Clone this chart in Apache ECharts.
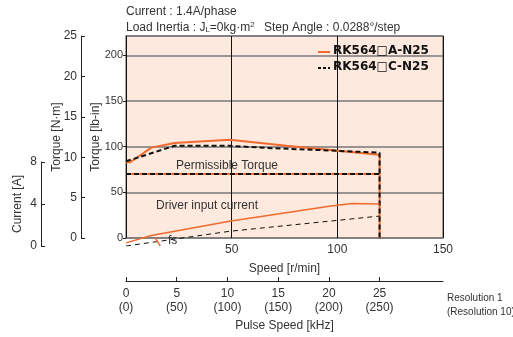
<!DOCTYPE html>
<html>
<head>
<meta charset="utf-8">
<script src="https://cdn.jsdelivr.net/npm/echarts@6/dist/echarts.min.js"></script>
<style>
html,body{margin:0;padding:0;background:#fff;}
#chart{width:513px;height:337px;}
</style>
</head>
<body>
<div id="chart"></div>
<script>
// data: speed [r/min], torque [lb-in], current [A]
var torqueA = [[0,83],[2,83],[12,99],[23,104],[49,107.5],[76,101],[118.5,91.5],[120,91],[120,0]];
var torqueC = [[0,84],[23,101],[49,101],[66,98.7],[97,95.8],[120,93.4],[120,0]];
var permissible = [[0,70],[120,70]];
var currentA = [[0,0.3],[12,1],[49,2.35],[97,3.8],[107,4.05],[120,4.0]];
var currentC = [[0,0],[49,1.4],[120,2.85]];
var fsLine = [[13.7,0.8],[16.2,0]];
var pulseTicks = [0,5,10,15,20,25];
var pulseTicks10 = ['(0)','(50)','(100)','(150)','(200)','(250)'];
var nameA = 'RK564\u25a1A-N25';
var nameC = 'RK564\u25a1C-N25';

var FONT = "'Liberation Sans',Arial,sans-serif";
var ORANGE = '#f26a2e';
var chart = echarts.init(document.getElementById('chart'));

function txt(left, top, s, size){
    return {type:'text', left:left, top:top, z:10, style:{text:s, fontSize:size||12, fontFamily:FONT, fill:'#333'}};
}

var option = {
    animation:false,
    textStyle:{fontFamily:FONT, color:'#333'},
    grid:[
        {left:126, right:70, top:36, bottom:91, show:true, backgroundColor:'#fde9de', borderColor:'#888', borderWidth:1.5},
        {left:126, right:70, top:162, bottom:91, show:false}
    ],
    xAxis:[
        {gridIndex:0, type:'value', min:0, max:150, interval:50,
         axisLine:{show:false}, axisTick:{show:false},
         axisLabel:{fontSize:12, color:'#333', margin:6, formatter:function(v){return v===0?'':v;}},
         splitLine:{show:true, lineStyle:{color:'#111', width:1}},
         name:'Speed [r/min]', nameLocation:'middle', nameGap:25, nameMoveOverlap:false,
         nameTextStyle:{fontSize:12, color:'#333'}},
        {gridIndex:0, type:'value', min:0, max:31.25, position:'bottom', offset:43,
         axisLine:{show:true, onZero:false, lineStyle:{color:'#222'}},
         axisTick:{show:true, inside:true, length:4, customValues:pulseTicks, lineStyle:{color:'#222'}},
         axisLabel:{fontSize:12, color:'#333', margin:6, lineHeight:14, customValues:pulseTicks,
            formatter:function(v){return v+'\n'+pulseTicks10[pulseTicks.indexOf(v)];}},
         splitLine:{show:false},
         name:'Pulse Speed [kHz]', nameLocation:'middle', nameGap:39, nameMoveOverlap:false,
         nameTextStyle:{fontSize:12, color:'#333'}},
        {gridIndex:1, type:'value', min:0, max:150, show:false}
    ],
    yAxis:[
        {gridIndex:0, type:'value', min:0, max:25*8.8507, interval:50,
         axisLine:{show:false}, axisTick:{show:true, length:3, lineStyle:{color:'#222'}},
         axisLabel:{fontSize:11, color:'#333', margin:3, showMaxLabel:false},
         splitLine:{show:true, lineStyle:{color:'#777', width:1.5}},
         name:'Torque [lb-in]', nameLocation:'middle', nameGap:24, nameMoveOverlap:false,
         nameTextStyle:{fontSize:12, color:'#333'}},
        {gridIndex:0, type:'value', min:0, max:25, interval:5, position:'left', offset:45,
         axisLine:{show:true, onZero:false, lineStyle:{color:'#222'}},
         axisTick:{show:true, inside:true, length:4, lineStyle:{color:'#222'}},
         axisLabel:{fontSize:12, color:'#333', margin:4},
         splitLine:{show:false},
         name:'Torque [N\u00b7m]', nameLocation:'middle', nameGap:18, nameMoveOverlap:false,
         nameTextStyle:{fontSize:12, color:'#333'}},
        {gridIndex:1, type:'value', min:0, max:8, interval:4, position:'left', offset:85,
         axisLine:{show:true, onZero:false, lineStyle:{color:'#222'}},
         axisTick:{show:true, inside:true, length:4, lineStyle:{color:'#222'}},
         axisLabel:{fontSize:12, color:'#333', margin:4},
         splitLine:{show:false},
         name:'Current [A]', nameLocation:'middle', nameGap:17, nameMoveOverlap:false,
         nameTextStyle:{fontSize:12, color:'#333'}}
    ],
    series:[
        {name:nameA, type:'line', xAxisIndex:0, yAxisIndex:0, data:torqueA, symbol:'none',
         lineStyle:{color:ORANGE, width:2}},
        {name:'permA', type:'line', xAxisIndex:0, yAxisIndex:0, data:permissible, symbol:'none',
         lineStyle:{color:ORANGE, width:2}},
        {name:nameC, type:'line', xAxisIndex:0, yAxisIndex:0, data:torqueC, symbol:'none',
         lineStyle:{color:'#111', width:2, type:[5,3]}},
        {name:'permC', type:'line', xAxisIndex:0, yAxisIndex:0, data:permissible, symbol:'none',
         lineStyle:{color:'#111', width:2, type:[5,3]}},
        {name:'curA', type:'line', xAxisIndex:2, yAxisIndex:2, data:currentA, symbol:'none',
         lineStyle:{color:ORANGE, width:1.5}},
        {name:'curC', type:'line', xAxisIndex:2, yAxisIndex:2, data:currentC, symbol:'none',
         lineStyle:{color:'#111', width:1, type:[5,4]}},
        {name:'fs', type:'line', xAxisIndex:2, yAxisIndex:2, data:fsLine, symbol:'none',
         lineStyle:{color:ORANGE, width:1.5}}
    ],
    graphic:[
        txt(126, 6, 'Current : 1.4A/phase'),
        {type:'text', left:126, top:21, style:{
            text:'Load Inertia : J{s|L}=0kg\u00b7m{sup|2}', fontSize:12, fontFamily:FONT, fill:'#333',
            rich:{s:{fontSize:8, fontFamily:FONT, fill:'#333', padding:[4,0,0,0]}, sup:{fontSize:8, fontFamily:FONT, fill:'#333', padding:[0,0,5,0]}}}},
        txt(264, 22, 'Step Angle : 0.0288\u00b0/step'),
        txt(176, 160, 'Permissible Torque'),
        txt(156, 200, 'Driver input current'),
        txt(168, 235, 'fs'),
        {type:'text', left:447, top:291, style:{text:'Resolution 1\n(Resolution 10)', fontSize:10, lineHeight:14, fontFamily:FONT, fill:'#333'}},
        // legend
        {type:'line', shape:{x1:318, y1:52, x2:330, y2:52}, z:10, style:{stroke:ORANGE, lineWidth:2}},
        {type:'line', shape:{x1:318, y1:68, x2:330, y2:68}, z:10, style:{stroke:'#111', lineWidth:2, lineDash:[3,2]}},
        {type:'text', left:333, top:45, z:10, style:{text:nameA, fontSize:12, fontWeight:'bold', fontFamily:"'DejaVu Sans',sans-serif", fill:'#111'}},
        {type:'text', left:333, top:61, z:10, style:{text:nameC, fontSize:12, fontWeight:'bold', fontFamily:"'DejaVu Sans',sans-serif", fill:'#111'}}
    ]
};
chart.setOption(option);
</script>
</body>
</html>
